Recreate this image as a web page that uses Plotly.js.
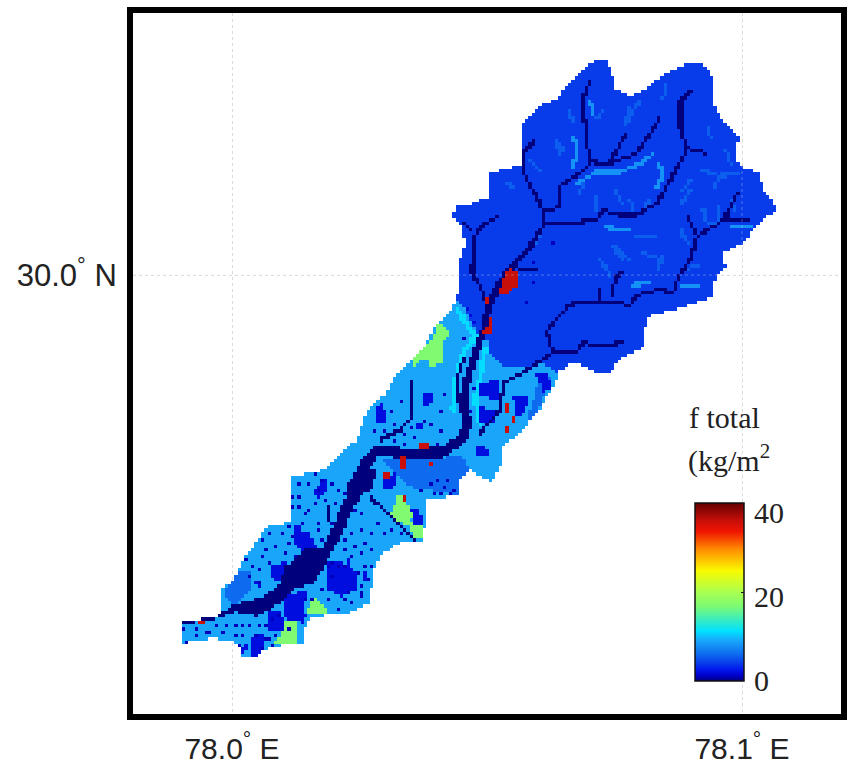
<!DOCTYPE html>
<html>
<head>
<meta charset="utf-8">
<script src="https://cdn.plot.ly/plotly-3.0.1.min.js"></script>
<style>html,body{margin:0;padding:0;background:#fff}#chart{width:847px;height:766px}</style>
</head>
<body>
<div id="chart"></div>
<script>
// Column 232 is 78.0 E, row 275 is 30.0 N.
const unitsPerDegree = 5100;
const originCol = 232, originRow = 275;
const cellSize = 3.3;

const xTickVals = [78.0, 78.1];
const xTickText = ['78.0<sup>°</sup> E', '78.1<sup>°</sup> E'];
const yTickVals = [30.0];
const yTickText = ['30.0<sup>°</sup> N'];
const colorbarLabels = ['0', '20', '40'];

// f total values (kg/m2) per land class
const fLowland = 9, fUpland = 4, fMid = 6, fPatch = 2, fSpeck = 1, fChannel = 0;
const fStreakBright = 8, fStreakFaint = 5.5, fCyan = 11, fGreen = 17, fRed = 36;

const basinOutline = [[182,622],[217,617],[223,608],[222,590],[233,580],[243,560],[267,527],[292,522],[292,477],[323,470],[340,453],[357,440],[367,410],[387,393],[397,373],[410,363],[427,343],[437,323],[450,313],[457,300],[458,267],[465,243],[462,228],[453,217],[455,207],[470,205],[487,197],[488,173],[520,165],[520,137],[523,122],[543,103],[555,100],[580,72],[597,58],[607,62],[612,70],[613,87],[630,97],[647,88],[663,75],[690,62],[703,65],[713,78],[712,103],[723,122],[738,137],[737,160],[742,168],[758,172],[763,190],[777,208],[763,220],[750,233],[747,240],[723,253],[725,267],[715,277],[713,297],[683,307],[647,317],[643,340],[643,348],[617,360],[610,375],[593,372],[573,362],[557,373],[557,380],[537,413],[520,432],[503,447],[500,467],[492,483],[470,470],[460,480],[458,495],[427,500],[423,540],[400,543],[383,553],[373,573],[370,603],[350,613],[328,615],[307,620],[302,643],[270,647],[253,658],[243,657],[237,643],[213,638],[183,643]];

const uplandRegion = [[458,267],[465,243],[462,228],[453,217],[455,207],[470,205],[487,197],[488,173],[520,165],[520,137],[523,122],[543,103],[555,100],[580,72],[597,58],[607,62],[612,70],[613,87],[630,97],[647,88],[663,75],[690,62],[703,65],[713,78],[712,103],[723,122],[738,137],[737,160],[742,168],[758,172],[763,190],[777,208],[763,220],[750,233],[747,240],[723,253],[725,267],[715,277],[713,297],[683,307],[647,317],[643,340],[643,348],[617,360],[610,375],[593,372],[573,362],[557,373],[543,363],[520,367],[500,365],[490,355],[490,340],[482,340],[475,330],[463,307],[457,300]];

const midPatches = [
  [[233,573],[250,570],[250,590],[233,607],[223,593]],
  [[383,460],[463,457],[470,470],[457,495],[430,490],[410,487]],
  [[537,385],[550,378],[537,413],[527,420]]
];
const bluePatches = [
  [[270,567],[287,560],[285,570],[283,583],[273,580]],
  [[293,527],[310,533],[320,553],[303,553],[293,543]],
  [[327,573],[353,567],[357,577],[357,590],[340,597],[327,590]],
  [[283,597],[307,590],[303,613],[283,617]],
  [[250,637],[263,633],[263,657],[250,657]],
  [[267,617],[283,617],[283,630],[267,630]],
  [[375,407],[383,403],[387,423],[377,423]],
  [[422,393],[432,395],[430,407],[423,405]],
  [[415,423],[423,425],[422,430],[415,428]],
  [[383,477],[397,473],[397,487],[383,488]],
  [[313,490],[327,480],[328,490],[317,500]],
  [[410,507],[420,510],[423,523],[413,520]],
  [[477,383],[500,380],[500,400],[480,397]],
  [[480,407],[497,410],[493,423],[480,423]],
  [[513,397],[530,397],[523,415],[515,418]],
  [[535,373],[547,373],[553,387],[543,393]],
  [[475,447],[490,448],[488,457],[477,455]],
  [[465,305],[478,330],[470,318]],
  [[312,490],[320,495],[313,498]],
  [[323,478],[330,483],[325,485]],
  [[293,525],[302,523],[302,533],[293,533]],
  [[255,580],[263,587],[258,590]],
  [[327,563],[343,563],[343,570],[327,573]],
  [[347,557],[353,570],[347,568]],
  [[363,567],[370,580],[363,583]],
  [[250,640],[240,650],[245,655]],
  [[267,613],[280,610],[283,627],[270,630]],
  [[287,613],[307,613],[302,623],[287,620]],
  [[405,513],[417,513],[423,527],[415,525]]
];
const greenPatches = [
  [[437,322],[450,332],[443,343],[442,362],[430,368],[427,357],[413,367],[410,357],[423,350],[433,338]],
  [[400,492],[405,503],[413,513],[410,523],[422,527],[423,540],[415,540],[408,527],[390,517],[395,503]],
  [[312,598],[318,600],[327,608],[327,615],[307,615]],
  [[285,622],[297,622],[298,645],[273,645],[282,633]]
];
const redPatches = [
  [[508,268],[518,273],[517,287],[503,295],[499,292],[502,280]],
  [[490,317],[493,330],[485,337],[482,333],[488,327]],
  [[485,297],[490,298],[487,303]],
  [[418,442],[428,442],[428,448],[418,448]],
  [[400,457],[405,457],[406,470],[400,470]],
  [[383,471],[389,471],[389,479],[383,479]],
  [[428,462],[433,462],[431,467]],
  [[503,427],[509,427],[507,433]],
  [[505,403],[508,403],[509,411],[506,412]],
  [[511,416],[514,416],[515,422],[512,422]],
  [[198,621],[204,620],[202,626]],
  [[402,497],[407,497],[407,502],[402,502]]
];
// [column, row, width] along the upper main channel and along its mouth
const mainChannel = [[545,223,3],[530,247,5],[515,263,7],[502,280,7],[493,297,7],[487,313,6],[483,333,7],[473,360,8],[467,380,8],[463,403,9],[467,423,9],[463,438,10],[443,452,11],[413,455,11],[377,450,10],[367,463,12],[353,487,12]];
const channelMouth = [[232,610,6],[213,618,4],[183,623,3]];
// the wide lower reach of the channel
const lowerChannel = [[230,607],[243,602],[263,598],[280,583],[285,567],[303,550],[323,547],[330,533],[343,503],[350,487],[363,473],[370,470],[377,470],[373,487],[363,495],[353,507],[343,533],[333,550],[323,570],[313,583],[293,590],[280,603],[257,617],[243,613],[230,612]];

const tributaries = [
  [[545,223],[563,222],[580,222],[597,220],[603,210],[617,215],[637,215],[657,203],[670,180],[687,148],[680,130],[680,100],[692,90]],
  [[687,148],[705,153]],
  [[545,223],[540,203],[525,177],[522,153],[533,142]],
  [[547,210],[560,207],[558,187],[580,173],[590,162],[610,163],[637,153],[660,118]],
  [[590,162],[585,137],[583,97],[590,82]],
  [[610,160],[627,132]],
  [[523,373],[553,352],[547,333],[553,323],[567,307],[577,302],[610,302],[630,305],[637,295],[657,290],[673,292],[678,277],[690,260],[697,237],[723,220],[737,193]],
  [[723,218],[747,220]],
  [[697,237],[688,217]],
  [[612,297],[615,277],[622,272]],
  [[600,302],[600,288]],
  [[553,352],[577,352],[583,343],[603,347],[622,342]],
  [[472,270],[473,240],[480,227],[497,217]],
  [[472,273],[483,293],[487,307]],
  [[518,268],[537,268]],
  [[463,223],[472,232]],
  [[523,373],[503,383],[500,410],[480,433]],
  [[412,383],[412,417],[400,430],[380,440]],
  [[370,497],[415,540]],
  [[463,360],[457,380],[458,400]],
  [[327,507],[327,520]]
];
const cyanBands = [
  [[457,310],[470,330],[475,337],[464,350],[457,373],[453,410]],
  [[485,350],[480,377],[475,400],[480,423]]
];
const brightStreaks = [
  [[577,183],[597,172],[620,172],[643,162],[653,153]],
  [[590,100],[593,113]],
  [[573,137],[577,150],[573,167]],
  [[607,228],[627,230]],
  [[730,227],[750,228]],
  [[660,165],[662,177],[657,187]],
  [[633,285],[647,283]],
  [[683,287],[697,285]]
];
const faintStreaks = [
  [[568,110],[572,120]],
  [[633,235],[657,235]],
  [[703,210],[707,223],[717,222],[717,207]],
  [[683,270],[700,265]],
  [[663,257],[657,270]],
  [[680,230],[687,243]],
  [[703,170],[720,177],[737,173]],
  [[583,180],[580,193]],
  [[667,83],[663,97]],
  [[603,110],[597,118]],
  [[617,247],[630,260]],
  [[597,197],[595,210]],
  [[707,127],[710,137]],
  [[640,100],[625,125]],
  [[690,190],[680,205]],
  [[615,190],[622,205]],
  [[650,200],[640,212]],
  [[725,150],[730,165]],
  [[530,160],[540,170]],
  [[555,140],[560,155]],
  [[530,250],[540,235]],
  [[600,260],[610,275]],
  [[630,107],[627,117]],
  [[557,140],[563,150]],
  [[513,187],[507,183]],
  [[643,253],[663,260]],
  [[683,190],[690,180]],
  [[713,187],[723,173]],
  [[730,200],[735,210]],
  [[613,247],[623,260]],
  [[630,200],[633,210]]
];
const specks = [[310,485],[293,497],[300,497],[317,492],[310,512],[293,507],[315,505],[332,483],[323,482],[337,490],[345,495],[345,513],[342,518],[333,523],[317,522],[305,513],[302,523],[290,528],[280,525],[270,533],[263,540],[275,548],[267,550],[263,558],[252,565],[245,560],[258,570],[270,562],[288,545],[293,538],[345,540],[353,533],[363,530],[377,523],[365,543],[355,547],[345,550],[350,558],[362,553],[370,550],[380,557],[373,568],[365,567],[337,567],[345,567],[328,565],[333,562],[368,580],[357,573],[363,593],[347,593],[353,603],[340,610],[370,603],[235,625],[242,625],[250,627],[260,627],[235,637],[243,637],[255,637],[267,627],[273,620],[277,637],[272,645],[183,630],[195,628],[197,635],[210,632],[215,627],[222,632],[210,640],[185,641],[225,625],[205,632],[390,410],[400,400],[395,425],[385,430],[375,430],[405,435],[410,428],[425,420],[440,410],[445,395],[430,425],[440,430],[395,440],[405,443],[415,438],[437,443],[437,480],[440,495],[450,493],[455,490],[443,487],[433,495],[447,482],[430,485],[422,492],[465,340],[470,377],[475,388],[472,413],[553,242],[533,282],[525,302],[533,262],[300,483],[315,475],[326,500],[336,505],[300,507],[248,578],[260,582],[280,615],[290,628],[310,628],[305,640],[292,652],[262,648],[340,535],[372,535],[385,533],[360,515],[375,505],[355,510],[410,545],[400,535],[390,530],[322,540],[290,520],[312,556],[325,555],[333,575],[323,590],[360,585],[300,585],[279,588],[265,640],[240,645],[268,640],[305,600],[283,535],[318,530],[287,553],[296,556],[312,600],[345,601],[330,600],[360,597],[277,657],[258,612]];

function toLon(col) { return 78 + (col - originCol) / unitsPerDegree; }
function toLat(row) { return 30 - (row - originRow) / unitsPerDegree; }

function inPolygon(c, r, poly) {
  let inside = false;
  for (let i = 0, j = poly.length - 1; i < poly.length; j = i++) {
    const [xi, yi] = poly[i], [xj, yj] = poly[j];
    if ((yi > r) !== (yj > r) && c < (xj - xi) * (r - yi) / (yj - yi) + xi) inside = !inside;
  }
  return inside;
}
function segmentInfo(c, r, a, b) {
  const dx = b[0] - a[0], dy = b[1] - a[1];
  let t = ((c - a[0]) * dx + (r - a[1]) * dy) / (dx * dx + dy * dy || 1);
  t = Math.max(0, Math.min(1, t));
  return { d: Math.hypot(c - a[0] - t * dx, r - a[1] - t * dy), t };
}
function nearLine(c, r, line, halfWidth) {
  for (let i = 0; i + 1 < line.length; i++) {
    if (segmentInfo(c, r, line[i], line[i + 1]).d <= halfWidth) return true;
  }
  return false;
}
function inTaperedLine(c, r, line) {
  for (let i = 0; i + 1 < line.length; i++) {
    const s = segmentInfo(c, r, line[i], line[i + 1]);
    const w = line[i][2] + (line[i + 1][2] - line[i][2]) * s.t;
    if (s.d <= w / 2) return true;
  }
  return false;
}
function inChannel(c, r) {
  return inTaperedLine(c, r, mainChannel) || inTaperedLine(c, r, channelMouth) || inPolygon(c, r, lowerChannel);
}

const cols = [], rows = [];
for (let c = 180; c <= 780; c += cellSize) cols.push(c);
for (let r = 55; r <= 662; r += cellSize) rows.push(r);

const fGrid = rows.map(r => cols.map(c => {
  if (!inPolygon(c, r, basinOutline)) return null;
  let v = inPolygon(c, r, uplandRegion) ? fUpland : fLowland;
  if (cyanBands.some(l => nearLine(c, r, l, 2.6))) v = fCyan;
  if (faintStreaks.some(l => nearLine(c, r, l, 1.7))) v = fStreakFaint;
  if (brightStreaks.some(l => nearLine(c, r, l, 2.0))) v = fStreakBright;
  if (midPatches.some(p => inPolygon(c, r, p))) v = fMid;
  if (bluePatches.some(p => inPolygon(c, r, p))) v = fPatch;
  if (greenPatches.some(p => inPolygon(c, r, p))) v = fGreen;
  if (specks.some(s => Math.abs(s[0] - c) <= cellSize / 2 && Math.abs(s[1] - r) <= cellSize / 2)) v = fSpeck;
  if (tributaries.some(l => nearLine(c, r, l, 1.75))) v = fChannel;
  if (inChannel(c, r)) v = fChannel;
  if (redPatches.some(p => inPolygon(c, r, p))) v = fRed;
  return v;
}));

const jetLike = [
  [0.00, 'rgb(0,0,125)'],
  [0.03, 'rgb(0,0,200)'],
  [0.06, 'rgb(0,20,235)'],
  [0.10, 'rgb(8,60,235)'],
  [0.16, 'rgb(15,115,240)'],
  [0.225, 'rgb(25,165,250)'],
  [0.28, 'rgb(0,225,255)'],
  [0.42, 'rgb(125,250,115)'],
  [0.50, 'rgb(170,255,80)'],
  [0.62, 'rgb(250,250,0)'],
  [0.74, 'rgb(255,140,0)'],
  [0.84, 'rgb(240,20,0)'],
  [0.90, 'rgb(200,15,10)'],
  [1.00, 'rgb(100,0,0)']
];

const W = 847, H = 766, L = 133, R = 6, T = 13, B = 52;
const plotW = W - L - R, plotH = H - T - B;
const serif = 'Liberation Serif, serif';
const sans = 'Liberation Sans, Arial, sans-serif';
const gridColor = 'rgba(215,215,215,0.9)';
const px = v => (v - L) / plotW;          // horizontal fraction of the plot area
const py = v => (H - B - v) / plotH;      // vertical fraction of the plot area

const trace = {
  type: 'heatmap',
  x: cols.map(toLon),
  y: rows.map(toLat),
  z: fGrid,
  zmin: 0, zmax: 40,
  colorscale: jetLike,
  hoverongaps: false,
  colorbar: {
    x: px(695), xanchor: 'left', xpad: 0,
    y: py(681), yanchor: 'bottom', ypad: 0,
    lenmode: 'pixels', len: 178,
    thicknessmode: 'pixels', thickness: 49,
    outlinecolor: '#111', outlinewidth: 1.5,
    tickmode: 'array', tickvals: [20], ticks: 'inside', ticklen: 3, tickcolor: '#111',
    showticklabels: false
  }
};

const layout = {
  width: W, height: H,
  margin: { l: L, r: R, t: T, b: B, autoexpand: false },
  paper_bgcolor: '#fff', plot_bgcolor: '#fff',
  showlegend: false,
  xaxis: {
    range: [toLon(L), toLon(W - R)], autorange: false,
    tickmode: 'array', tickvals: xTickVals, ticktext: xTickText,
    showline: true, mirror: true, linecolor: '#000', linewidth: 6,
    showgrid: true, gridcolor: gridColor, griddash: 'dot', gridwidth: 1,
    zeroline: false, ticks: '', ticklabelstandoff: 3,
    tickfont: { family: sans, size: 30, color: '#222' }
  },
  yaxis: {
    range: [toLat(H - B), toLat(T)], autorange: false,
    tickmode: 'array', tickvals: yTickVals, ticktext: yTickText,
    showline: true, mirror: true, linecolor: '#000', linewidth: 6,
    showgrid: true, gridcolor: gridColor, griddash: 'dot', gridwidth: 1,
    zeroline: false, ticks: '', ticklabelstandoff: 4,
    tickfont: { family: sans, size: 31, color: '#222' }
  },
  shapes: [
    { type: 'line', layer: 'above', xref: 'x', yref: 'paper', x0: xTickVals[1], x1: xTickVals[1], y0: 0, y1: 1, line: { color: 'rgba(225,225,225,0.35)', width: 1, dash: 'dot' } },
    { type: 'line', layer: 'above', xref: 'paper', yref: 'y', x0: 0, x1: 1, y0: yTickVals[0], y1: yTickVals[0], line: { color: 'rgba(225,225,225,0.35)', width: 1, dash: 'dot' } }
  ],
  annotations: [
    { text: 'f total', xref: 'paper', yref: 'paper', x: px(687), y: py(418), xanchor: 'left', yanchor: 'middle', showarrow: false, font: { family: serif, size: 30, color: '#222' } },
    { text: '(kg/m<sup>2</sup>', xref: 'paper', yref: 'paper', x: px(686), y: py(458), xanchor: 'left', yanchor: 'middle', showarrow: false, font: { family: serif, size: 30, color: '#222' } },
    { text: colorbarLabels[2], xref: 'paper', yref: 'paper', x: px(752), y: py(512), xanchor: 'left', yanchor: 'middle', showarrow: false, font: { family: serif, size: 30, color: '#222' } },
    { text: colorbarLabels[1], xref: 'paper', yref: 'paper', x: px(752), y: py(596), xanchor: 'left', yanchor: 'middle', showarrow: false, font: { family: serif, size: 30, color: '#222' } },
    { text: colorbarLabels[0], xref: 'paper', yref: 'paper', x: px(752), y: py(680), xanchor: 'left', yanchor: 'middle', showarrow: false, font: { family: serif, size: 30, color: '#222' } }
  ]
};

Plotly.newPlot('chart', [trace], layout, { displayModeBar: false, staticPlot: true });
</script>
</body>
</html>
